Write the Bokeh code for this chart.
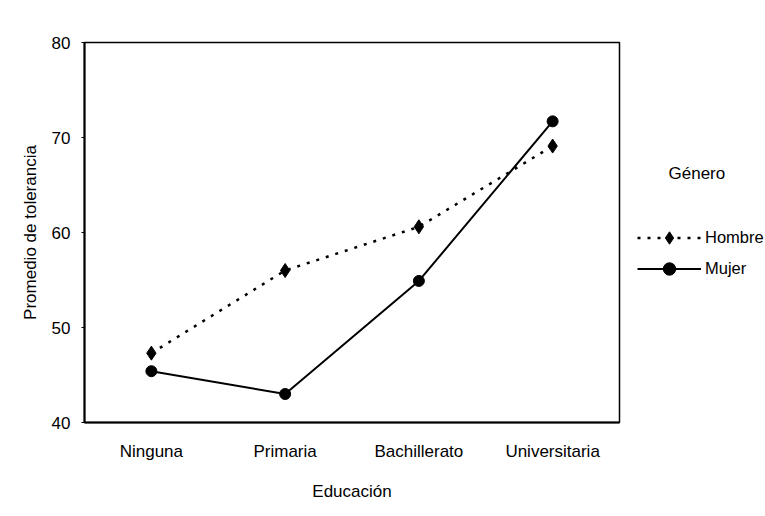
from bokeh.plotting import figure
from bokeh.layouts import row
from bokeh.models import FactorRange, Range1d, Legend, LegendItem, Label, FixedTicker
from bokeh.embed import file_html
from bokeh.resources import INLINE

categories = ["Ninguna", "Primaria", "Bachillerato", "Universitaria"]
hombre = [47.3, 56.0, 60.6, 69.1]
mujer = [45.4, 43.0, 54.9, 71.7]
y_ticks = [40, 50, 60, 70, 80]
series_names = ["Hombre", "Mujer"]
legend_title = "Género"

FONT = "Liberation Sans"
FS = "17px"
NAN = [float("nan")]

p = figure(x_range=FactorRange(*categories, range_padding=0), y_range=Range1d(40, 80),
           width=628, height=516, output_backend="svg", toolbar_location=None,
           min_border_left=84, min_border_right=9, min_border_top=42, min_border_bottom=94)
p.xgrid.visible = False
p.ygrid.visible = False
p.outline_line_color = "black"
p.outline_line_width = 1.5
p.background_fill_color = "white"
p.border_fill_color = "white"

for ax in (p.xaxis[0], p.yaxis[0]):
    ax.axis_line_width = 2
    ax.axis_line_color = "black"
    ax.major_label_text_font = FONT
    ax.major_label_text_font_size = FS
    ax.major_label_text_color = "black"
    ax.axis_label_text_font = FONT
    ax.axis_label_text_font_size = FS
    ax.axis_label_text_font_style = "normal"
    ax.axis_label_text_color = "black"
    ax.minor_tick_line_color = None

p.yaxis.ticker = FixedTicker(ticks=y_ticks)
p.yaxis.major_tick_out = 3
p.yaxis.major_tick_in = 0
p.yaxis.major_tick_line_color = "black"
p.yaxis.major_label_standoff = 11
p.yaxis.axis_label = "Promedio de tolerancia"
p.yaxis.axis_label_standoff = 9

p.xaxis.major_tick_line_color = None
p.xaxis.major_tick_out = 0
p.xaxis.major_label_standoff = 19
p.xaxis.axis_label = "Educación"
p.xaxis.axis_label_standoff = 18

p.line(categories, hombre, line_color="black", line_width=2.5, line_dash="3 7")
p.scatter(categories, hombre, marker="diamond", size=14, color="black")
p.line(categories, mujer, line_color="black", line_width=2)
p.scatter(categories, mujer, marker="circle", size=11, color="black")

# side panel holding the legend (its frame is aligned with the main frame)
q = figure(width=137, height=516, output_backend="svg", toolbar_location=None,
           x_range=Range1d(0, 1), y_range=Range1d(0, 1), x_axis_type=None, y_axis_type=None,
           min_border=0)
q.xgrid.visible = False
q.ygrid.visible = False
q.outline_line_color = None
q.background_fill_color = "white"
q.border_fill_color = "white"

lh = q.line(NAN, NAN, line_color="black", line_width=2.5, line_dash="3 7")
sh = q.scatter(NAN, NAN, marker="diamond", color="black")
lm = q.line(NAN, NAN, line_color="black", line_width=2)
sm = q.scatter(NAN, NAN, marker="circle", color="black")

legend = Legend(items=[LegendItem(label=series_names[0], renderers=[lh, sh]),
                       LegendItem(label=series_names[1], renderers=[lm, sm])],
                location=(9, 138), padding=0, margin=0, spacing=0,
                glyph_width=64, glyph_height=31, label_height=31, label_standoff=4,
                label_text_font=FONT, label_text_font_size="16.5px", label_text_color="black",
                border_line_alpha=0, background_fill_alpha=0)
q.add_layout(legend)

q.add_layout(Label(x=40, y=249, x_units="screen", y_units="screen", text=legend_title,
                   text_font=FONT, text_font_size=FS, text_color="black",
                   text_baseline="alphabetic"))

layout = row(p, q)
open("out.html", "w").write(file_html(layout, INLINE))
